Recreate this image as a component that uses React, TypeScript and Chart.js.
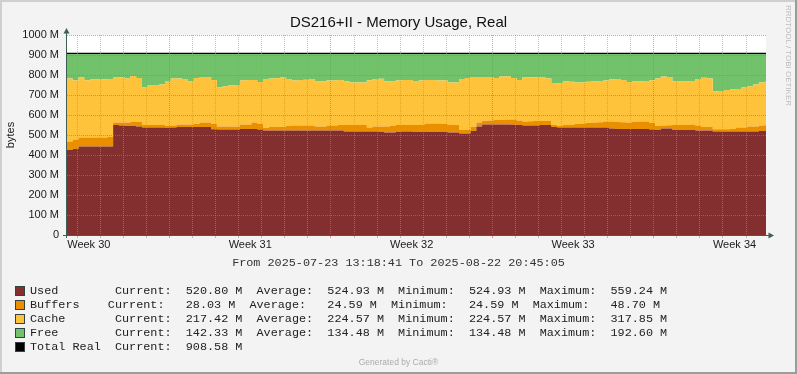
import React, { useEffect, useRef } from 'react';
import { Chart, registerables } from 'chart.js';

Chart.register(...registerables);

// ---------- text ----------
const TITLE = 'DS216+II - Memory Usage, Real';
const Y_AXIS_TITLE = 'bytes';
const PERIOD_TEXT = 'From 2025-07-23 13:18:41 To 2025-08-22 20:45:05';
const WATERMARK = 'RRDTOOL / TOBI OETIKER';
const GENERATOR = 'Generated by Cacti®';

// ---------- time axis (hours since 2025-07-23 13:18:41) ----------
const SAMPLE_STEP_HOURS = 6;
const END_HOURS = 727.44;
const FIRST_MIDNIGHT_HOURS = 10.69; // 2025-07-24 00:00
const MONDAY_GRID_HOURS = [106.69, 274.69, 442.69, 610.69];
const WEEK_LABEL_HOURS = [22.69, 190.69, 358.69, 526.69, 694.69];
const WEEK_LABELS = ['Week 30', 'Week 31', 'Week 32', 'Week 33', 'Week 34'];

// ---------- y axis ----------
const Y_MAX = 1000;
const Y_STEP = 50;

// ---------- series (M bytes, one value every 6 hours) ----------
const used = [
  425, 430, 442, 442, 442, 442, 442, 442, 550, 547,
  545, 545, 542, 537, 537, 537, 537, 536, 538, 540,
  540, 540, 540, 540, 540, 529, 527, 527, 527, 528,
  530, 530, 530, 528, 522, 522, 522, 522, 522, 522,
  522, 522, 522, 522, 522, 522, 522, 522, 518, 517,
  517, 517, 517, 517, 516, 512, 512, 515, 517, 517,
  515, 515, 515, 515, 515, 515, 512, 512, 508, 508,
  520, 542, 553, 553, 553, 553, 553, 551, 550, 547,
  547, 547, 550, 550, 540, 537, 537, 537, 537, 537,
  537, 537, 537, 537, 532, 530, 530, 530, 530, 530,
  530, 528, 526, 533, 533, 525, 525, 525, 525, 523,
  522, 522, 517, 517, 517, 517, 517, 517, 517, 517,
  520, 520.8,
];
const buffers = [
  42, 48, 45, 45, 45, 45, 45, 48, 13, 15,
  18, 22, 23, 13, 13, 13, 13, 10, 10, 13,
  13, 13, 16, 23, 23, 26, 15, 15, 15, 14,
  23, 23, 32, 27, 13, 18, 18, 18, 23, 25,
  25, 25, 25, 20, 21, 25, 25, 28, 32, 33,
  33, 33, 20, 25, 26, 30, 34, 35, 33, 33,
  35, 35, 43, 43, 43, 41, 38, 38, 17, 17,
  20, 21, 17, 19, 22, 22, 24, 27, 23, 20,
  22, 23, 20, 20, 10, 8, 13, 13, 18, 20,
  23, 25, 27, 30, 35, 35, 34, 32, 36, 37,
  37, 32, 20, 14, 16, 25, 25, 25, 28, 25,
  18, 18, 12, 12, 12, 13, 20, 20, 25, 25,
  27, 28.03,
];
const cache = [
  316, 294, 300, 287, 290, 290, 290, 290, 227, 226,
  220, 228, 220, 187, 200, 200, 203, 224, 235, 230,
  227, 214, 229, 227, 227, 220, 195, 200, 206, 208,
  219, 222, 213, 210, 245, 243, 244, 248, 235, 226,
  228, 229, 233, 225, 225, 225, 225, 225, 218, 212,
  212, 213, 237, 238, 239, 225, 221, 222, 225, 225,
  220, 222, 217, 217, 215, 216, 213, 213, 255, 260,
  250, 227, 220, 218, 210, 218, 216, 207, 202, 221,
  219, 218, 217, 213, 210, 212, 217, 216, 208, 206,
  206, 205, 206, 205, 210, 215, 211, 203, 201, 200,
  203, 214, 237, 245, 241, 218, 217, 217, 217, 232,
  246, 243, 188, 191, 196, 197, 193, 200, 200, 210,
  215, 217.42,
];
const free = [
  126, 137, 122, 135, 132, 132, 132, 129, 119, 121,
  126, 114, 124, 172, 159, 159, 156, 139, 126, 126,
  129, 142, 124, 119, 119, 134, 172, 167, 161, 159,
  137, 134, 134, 144, 129, 126, 125, 121, 129, 136,
  134, 133, 129, 142, 141, 137, 137, 134, 141, 147,
  147, 146, 135, 129, 128, 142, 142, 137, 134, 134,
  139, 137, 134, 134, 136, 137, 146, 146, 129, 124,
  119, 119, 119, 119, 124, 116, 116, 124, 134, 121,
  121, 121, 122, 126, 149, 152, 142, 143, 146, 146,
  143, 142, 139, 137, 132, 129, 134, 144, 142, 142,
  139, 135, 126, 117, 119, 141, 142, 142, 139, 129,
  123, 126, 192, 189, 184, 182, 179, 172, 167, 157,
  147, 142.33,
];
const TOTAL_REAL = 908.58;

// ---------- legend ----------
const LEGEND_NAMES = ['Used', 'Buffers', 'Cache', 'Free', 'Total Real'];
const LEGEND_NAME_WIDTH = [12, 11, 12, 12, 12];
const LEGEND_CURRENT = [520.8, 28.03, 217.42, 142.33, 908.58];
const LEGEND_AVERAGE = [524.93, 24.59, 224.57, 134.48, null];
const LEGEND_MINIMUM = [524.93, 24.59, 224.57, 134.48, null];
const LEGEND_MAXIMUM = [559.24, 48.7, 317.85, 192.6, null];

// ---------- styles ----------
const COLORS = ['#832F2F', '#EA8F00', '#FFC33B', '#72C26B', '#000000'];
const BG = '#F3F3F3';
const AXIS_COLOR = '#3E5E57';
const MINOR_GRID = 'rgba(150,150,150,0.6)';
const MAJOR_GRID = 'rgba(230,90,90,0.65)';
const SANS = "'Liberation Sans', Arial, sans-serif";
const MONO = "'Liberation Mono', 'DejaVu Sans Mono', monospace";

const near = (a: number, b: number) => Math.abs(a - b) < 0.01;

const times = used.map((_, i) => i * SAMPLE_STEP_HOURS);
const toPoints = (arr: number[]) => [
  ...arr.map((y, i) => ({ x: times[i], y })),
  { x: END_HOURS, y: arr[arr.length - 1] },
];

const dayGridHours: number[] = [];
for (let h = FIRST_MIDNIGHT_HOURS; h < END_HOURS; h += 24) dayGridHours.push(h);

const fmt = (v: number) => v.toFixed(2).padStart(8, ' ');
const legendLine = (i: number) => {
  let s = LEGEND_NAMES[i].padEnd(LEGEND_NAME_WIDTH[i], ' ') + 'Current:' + fmt(LEGEND_CURRENT[i]) + ' M';
  const avg = LEGEND_AVERAGE[i];
  if (avg !== null) {
    s += '  Average:' + fmt(avg) + ' M';
    s += '  Minimum:' + fmt(LEGEND_MINIMUM[i] as number) + ' M';
    s += '  Maximum:' + fmt(LEGEND_MAXIMUM[i] as number) + ' M';
  }
  return s;
};

const xGridColor = (c: any) => {
  const v = c.tick ? c.tick.value : 0;
  if (WEEK_LABEL_HOURS.some((h) => near(h, v))) return 'rgba(0,0,0,0)';
  if (MONDAY_GRID_HOURS.some((h) => near(h, v))) return MAJOR_GRID;
  return MINOR_GRID;
};

const framePlugin = {
  id: 'rrdFrame',
  beforeDraw(chart: any) {
    const { ctx, chartArea: ca, width, height } = chart;
    ctx.save();
    ctx.fillStyle = BG;
    ctx.fillRect(0, 0, width, height);
    ctx.fillStyle = '#CFCFCF';
    ctx.fillRect(0, 0, width, 2);
    ctx.fillRect(0, 0, 2, height);
    ctx.fillStyle = '#9C9C9C';
    ctx.fillRect(0, height - 2, width, 2);
    ctx.fillRect(width - 2, 0, 2, height);
    ctx.fillStyle = '#FFFFFF';
    ctx.fillRect(ca.left, ca.top, ca.right - ca.left, ca.bottom - ca.top);
    ctx.restore();
  },
  afterDraw(chart: any) {
    const { ctx, chartArea: ca } = chart;
    ctx.save();
    ctx.strokeStyle = AXIS_COLOR;
    ctx.fillStyle = AXIS_COLOR;
    ctx.lineWidth = 1;
    const ax = ca.left - 0.5;
    const ay = ca.bottom + 0.5;
    ctx.beginPath();
    ctx.moveTo(ax, ca.bottom + 3);
    ctx.lineTo(ax, ca.top - 3);
    ctx.stroke();
    ctx.beginPath();
    ctx.moveTo(ca.left - 4, ay);
    ctx.lineTo(ca.right + 3, ay);
    ctx.stroke();
    ctx.beginPath();
    ctx.moveTo(ax, ca.top - 7);
    ctx.lineTo(ax - 3, ca.top - 1.5);
    ctx.lineTo(ax + 3, ca.top - 1.5);
    ctx.closePath();
    ctx.fill();
    ctx.beginPath();
    ctx.moveTo(ca.right + 8, ay);
    ctx.lineTo(ca.right + 2.5, ay - 3);
    ctx.lineTo(ca.right + 2.5, ay + 3);
    ctx.closePath();
    ctx.fill();
    ctx.restore();
  },
};

export default function App() {
  const canvasRef = useRef<HTMLCanvasElement | null>(null);

  useEffect(() => {
    const canvas = canvasRef.current;
    if (!canvas) return;
    const area = (label: string, data: number[], color: string, fill: any) => ({
      label,
      data: toPoints(data),
      backgroundColor: color,
      borderColor: color,
      borderWidth: 0,
      pointRadius: 0,
      stepped: true,
      fill,
      stack: 'mem',
    });
    const chart = new Chart(canvas, {
      type: 'line',
      data: {
        datasets: [
          {
            label: 'Total Real',
            data: [
              { x: 0, y: TOTAL_REAL },
              { x: END_HOURS, y: TOTAL_REAL },
            ],
            borderColor: COLORS[4],
            borderWidth: 1.2,
            pointRadius: 0,
            fill: false,
            stack: 'total',
          } as any,
          area('Used', used, COLORS[0], 'origin'),
          area('Buffers', buffers, COLORS[1], '-1'),
          area('Cache', cache, COLORS[2], '-1'),
          area('Free', free, COLORS[3], '-1'),
        ],
      },
      options: {
        animation: false,
        responsive: false,
        maintainAspectRatio: false,
        events: [],
        layout: { padding: { left: 0, right: 31, top: 35, bottom: 119 } },
        plugins: {
          legend: { display: false },
          tooltip: { enabled: false },
          title: { display: false },
        },
        scales: {
          x: {
            type: 'linear',
            min: 0,
            max: END_HOURS,
            afterFit: (s: any) => {
              s.height = 20;
            },
            afterBuildTicks: (s: any) => {
              const vals = [...dayGridHours, ...WEEK_LABEL_HOURS].sort((a, b) => a - b);
              s.ticks = vals.map((v) => ({ value: v }));
            },
            ticks: {
              autoSkip: false,
              maxRotation: 0,
              minRotation: 0,
              padding: 0,
              color: '#1a1a1a',
              font: { family: SANS, size: 11 },
              callback: (value: any) => {
                const k = WEEK_LABEL_HOURS.findIndex((h) => near(h, Number(value)));
                return k >= 0 ? WEEK_LABELS[k] : '';
              },
            },
            grid: {
              z: 1,
              drawTicks: true,
              tickLength: 3,
              lineWidth: 1,
              color: xGridColor,
              tickColor: xGridColor,
            },
            border: { display: false, dash: [1, 1] },
          },
          y: {
            type: 'linear',
            min: 0,
            max: Y_MAX,
            stacked: true,
            afterFit: (s: any) => {
              s.width = 67;
            },
            ticks: {
              stepSize: Y_STEP,
              padding: 8,
              color: '#1a1a1a',
              font: { family: SANS, size: 11 },
              callback: (value: any) => {
                const v = Number(value);
                if (v % 100 !== 0) return '';
                return v === 0 ? '0' : `${v} M`;
              },
            },
            grid: {
              z: 1,
              drawTicks: false,
              lineWidth: 1,
              color: (c: any) => {
                const v = c.tick ? c.tick.value : 0;
                return v % 100 === 0 ? MAJOR_GRID : MINOR_GRID;
              },
            },
            border: { display: false, dash: [1, 1] },
            title: {
              display: true,
              text: Y_AXIS_TITLE,
              color: '#1a1a1a',
              font: { family: SANS, size: 11 },
              padding: { top: 4, bottom: 0 },
            },
          },
        },
      } as any,
      plugins: [framePlugin],
    });
    return () => chart.destroy();
  }, []);

  const abs = (s: React.CSSProperties): React.CSSProperties => ({ position: 'absolute', margin: 0, ...s });

  return (
    <div style={{ position: 'fixed', left: 0, top: 0, width: 797, height: 374, overflow: 'hidden', background: BG }}>
      <canvas ref={canvasRef} width={797} height={374} style={{ position: 'absolute', left: 0, top: 0, width: 797, height: 374 }} />
      <div style={abs({ left: 0, top: 14, width: 797, textAlign: 'center', fontFamily: SANS, fontSize: 15, lineHeight: '16px', color: '#111' })}>
        {TITLE}
      </div>
      <div style={abs({ left: 784, top: 5, writingMode: 'vertical-rl', fontFamily: SANS, fontSize: 8, lineHeight: '9px', color: '#BDBDBD', whiteSpace: 'nowrap' })}>
        {WATERMARK}
      </div>
      <div style={abs({ left: 0, top: 256, width: 797, textAlign: 'center', fontFamily: MONO, fontSize: 11.8, lineHeight: '14px', color: '#333', whiteSpace: 'pre' })}>
        {PERIOD_TEXT}
      </div>
      {LEGEND_NAMES.map((name, i) => (
        <React.Fragment key={name}>
          <div
            style={abs({
              left: 15,
              top: 286 + i * 14,
              width: 10,
              height: 10,
              boxSizing: 'border-box',
              border: '1px solid #33433f',
              background: COLORS[i],
            })}
          />
          <div style={abs({ left: 30, top: 284 + i * 14, fontFamily: MONO, fontSize: 11.8, lineHeight: '14px', color: '#222', whiteSpace: 'pre' })}>
            {legendLine(i)}
          </div>
        </React.Fragment>
      ))}
      <div style={abs({ left: 0, top: 357, width: 797, textAlign: 'center', fontFamily: SANS, fontSize: 8.5, lineHeight: '10px', color: '#ABABAB' })}>
        {GENERATOR}
      </div>
    </div>
  );
}
